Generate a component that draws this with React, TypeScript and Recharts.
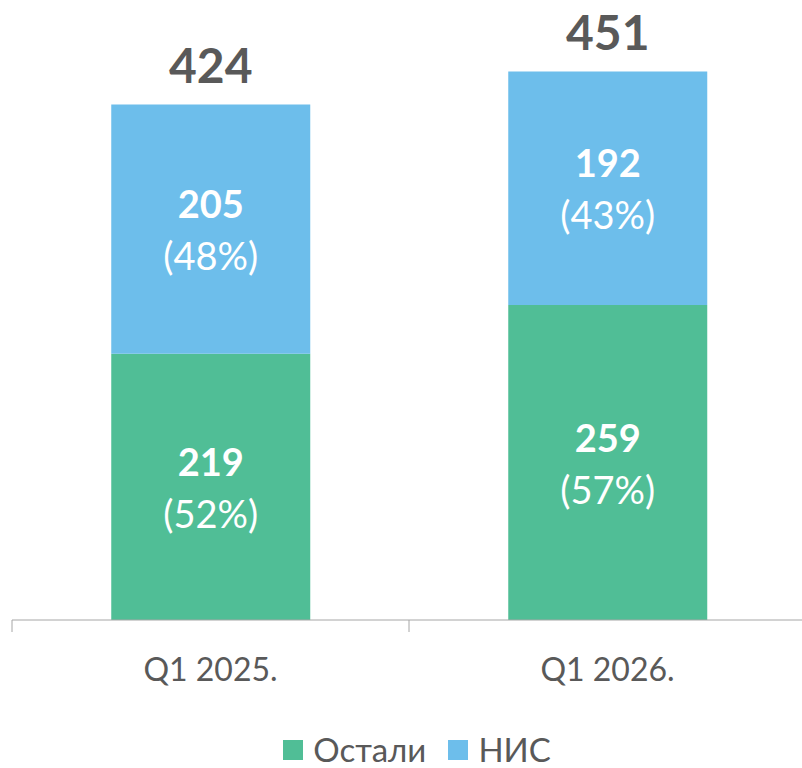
import { BarChart, Bar, XAxis, YAxis, Legend, LabelList } from 'recharts';

const categories = ['Q1 2025.', 'Q1 2026.'];
const ostali = [219, 259];
const nis = [205, 192];
const ostaliPct = ['52%', '57%'];
const nisPct = ['48%', '43%'];
const totals = [424, 451];

const GREEN = '#50BE96';
const BLUE = '#6DBEEB';
const GRAY = '#595959';
const FONT = 'Lato, "Open Sans", sans-serif';

const data = categories.map((name, i) => ({
    name,
    ostali: ostali[i],
    nis: nis[i],
}));

const innerLabel = (pcts: string[]) => (props: any) => {
    const { x, y, width, height, index } = props;
    const cx = x + width / 2;
    const cy = y + height / 2;
    return (
        <g>
            <text x={cx} y={cy - 26} textAnchor="middle" dominantBaseline="central" fill="#fff"
                fontFamily={FONT} fontSize={38} fontWeight={700}>
                {props.value}
            </text>
            <text x={cx} y={cy + 26} textAnchor="middle" dominantBaseline="central" fill="#fff"
                fontFamily={FONT} fontSize={38}>
                ({pcts[index]})
            </text>
        </g>
    );
};

const totalLabel = (props: any) => {
    const { x, y, width, index } = props;
    return (
        <text x={x + width / 2} y={y - 40} textAnchor="middle" dominantBaseline="central" fill={GRAY}
            fontFamily={FONT} fontSize={48} fontWeight={700}>
            {totals[index]}
        </text>
    );
};

const AxisTick = (props: any) => {
    const { x, y, payload, width, index } = props;
    const half = width / categories.length / 2;
    return (
        <g>
            <line x1={x - half} x2={x - half} y1={y} y2={y + 12} stroke="#A6A6A6" />
            {index === categories.length - 1 && (
                <line x1={x + half} x2={x + half} y1={y} y2={y + 12} stroke="#A6A6A6" />
            )}
            <text x={x} y={y + 48} textAnchor="middle" dominantBaseline="central" fill={GRAY}
                fontFamily={FONT} fontSize={32}>
                {payload.value}
            </text>
        </g>
    );
};

const LegendContent = () => (
    <div style={{ height: 52, display: 'flex', justifyContent: 'center', alignItems: 'flex-start',
        paddingTop: 15, paddingLeft: 16, boxSizing: 'border-box', fontFamily: FONT, fontSize: 33,
        lineHeight: '36px', color: GRAY }}>
        <span style={{ width: 20, height: 20, marginTop: 9, background: GREEN, display: 'inline-block', marginRight: 10 }} />
        <span style={{ marginRight: 22 }}>Остали</span>
        <span style={{ width: 20, height: 20, marginTop: 9, background: BLUE, display: 'inline-block', marginRight: 10 }} />
        <span>НИС</span>
    </div>
);

export default function App() {
    return (
        <div style={{ position: 'absolute', left: 0, top: 0, width: 802, height: 768, overflow: 'hidden', background: '#fff' }}>
            <BarChart width={806} height={768} data={data} barCategoryGap="25%"
                margin={{ top: 12, right: 0, left: 12, bottom: 0 }}>
                <XAxis dataKey="name" tickLine={false} tickSize={0} tickMargin={0} height={96}
                    axisLine={{ stroke: '#A6A6A6' }} tick={<AxisTick />} interval={0} />
                <YAxis hide domain={[0, 500]} />
                <Legend verticalAlign="bottom" height={52} content={<LegendContent />} />
                <Bar dataKey="ostali" stackId="a" fill={GREEN} isAnimationActive={false}>
                    <LabelList dataKey="ostali" content={innerLabel(ostaliPct)} />
                </Bar>
                <Bar dataKey="nis" stackId="a" fill={BLUE} isAnimationActive={false}>
                    <LabelList dataKey="nis" content={innerLabel(nisPct)} />
                    <LabelList dataKey="nis" content={totalLabel} />
                </Bar>
            </BarChart>
        </div>
    );
}
